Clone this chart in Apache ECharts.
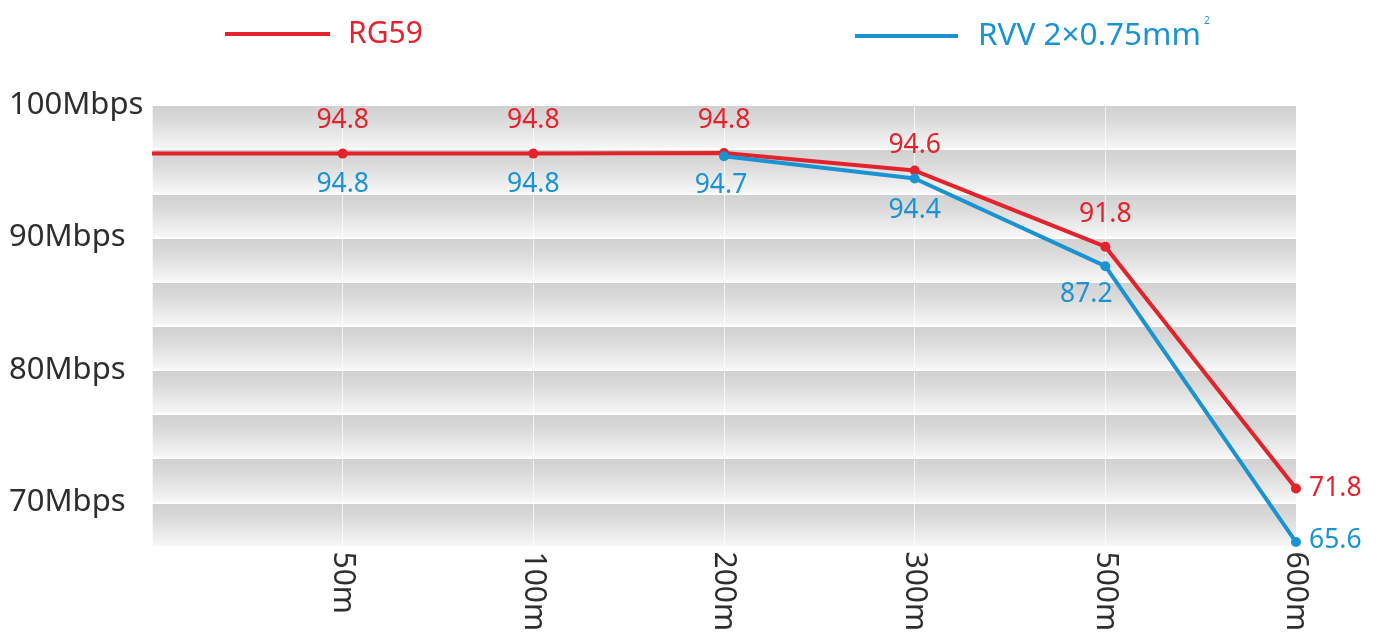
<!DOCTYPE html>
<html>
<head>
<meta charset="utf-8">
<script src="https://cdn.jsdelivr.net/npm/echarts@6/dist/echarts.min.js"></script>
<style>html,body{margin:0;padding:0;background:#fff;}#c{width:1381px;height:634px;}</style>
</head>
<body>
<div id="c"></div>
<script>
// Distance categories (first slot is the blank left edge of the plot)
const categories = ['', '50m', '100m', '200m', '300m', '500m', '600m'];
// Printed speed values (Mbps)
const rg59Labels = [null, 94.8, 94.8, 94.8, 94.6, 91.8, 71.8];
const rvvLabels  = [null, 94.8, 94.8, 94.7, 94.4, 87.2, 65.6];
// Plotted levels
const rg59Level = [96.33, 96.33, 96.33, 96.38, 95.05, 89.3, 71.05];
const rvvLevel  = [null, null, null, 96.13, 94.45, 87.83, 67.0];
// Y axis tick labels
const yTickValues = [100, 90, 80, 70];

const RED = '#e3232c';
const BLUE = '#1b93d2';
const FONT = 'Noto Sans';

const redLabelCfg = {
  1: {position: 'inside', offset: [0, -33]},
  2: {position: 'inside', offset: [0, -33]},
  3: {position: 'inside', offset: [0, -32]},
  4: {position: 'inside', offset: [0, -25]},
  5: {position: 'inside', offset: [0, -32]},
  6: {position: 'right', distance: 8, offset: [0, 0]}
};
const blueLabelCfg = {
  3: {position: 'inside', offset: [-3, 29]},
  4: {position: 'inside', offset: [0, 32]},
  5: {position: 'inside', offset: [-19, 28]},
  6: {position: 'right', distance: 8, offset: [0, -2]}
};

function buildData(levels, labels, cfg, color) {
  return levels.map((v, i) => {
    if (v === null) return '-';
    const item = {value: v};
    if (i === 0) { item.symbol = 'none'; item.label = {show: false}; return item; }
    const c = cfg[i];
    if (c) {
      item.label = Object.assign({show: true, formatter: String(labels[i]), color: color,
        fontSize: 26.5, fontFamily: FONT}, c);
    } else {
      item.label = {show: false};
    }
    return item;
  });
}

// Blue line is hidden under the red one at 50m and 100m; its labels still show there
const rvvHiddenLevel = rg59Level.map((v, i) => (i === 1 || i === 2) ? v : null);
const hiddenCfg = {
  1: {position: 'inside', offset: [0, 31]},
  2: {position: 'inside', offset: [0, 31]}
};

const chart = echarts.init(document.getElementById('c'));
const bandGradient = new echarts.graphic.LinearGradient(0, 0, 0, 1, [
  {offset: 0, color: '#d0d0d0'},
  {offset: 0.35, color: '#dadada'},
  {offset: 1, color: '#f7f7f7'}
]);

chart.setOption({
  backgroundColor: '#ffffff',
  animation: false,
  legend: [
    {
      data: ['RG59'], left: 220, top: 14, icon: 'rect', itemWidth: 105, itemHeight: 4,
      formatter: '{t|{name}}',
      textStyle: {rich: {t: {color: RED, fontSize: 30, fontFamily: FONT, lineHeight: 34, padding: [0, 0, 0, 13]}}}
    },
    {
      data: ['RVV 2×0.75mm2'], left: 850, top: 11, icon: 'rect', itemWidth: 103, itemHeight: 4,
      formatter: function () { return '{t|RVV 2×0.75mm}{s|2}'; },
      textStyle: {rich: {
        t: {color: BLUE, fontSize: 31.5, fontFamily: FONT, lineHeight: 40, padding: [0, 0, 0, 15]},
        s: {color: BLUE, fontSize: 10, fontFamily: FONT, lineHeight: 10, verticalAlign: 'top', padding: [0, 0, 0, 3]}
      }}
    }
  ],
  grid: {left: 152, right: 85, top: 105, bottom: 85},
  xAxis: {
    type: 'category',
    data: categories,
    boundaryGap: false,
    axisLine: {show: false},
    axisTick: {show: false},
    axisLabel: {rotate: -90, fontSize: 30, color: '#2e2e2e', fontFamily: FONT, margin: 5},
    splitLine: {show: true, lineStyle: {color: 'rgba(255,255,255,0.7)', width: 1}}
  },
  yAxis: {
    type: 'value',
    min: 200 / 3,
    max: 100,
    interval: 10 / 3,
    axisLine: {show: false},
    axisTick: {show: false},
    axisLabel: {
      fontSize: 31, color: '#2e2e2e', fontFamily: FONT, align: 'left', margin: 143,
      formatter: function (v) {
        for (const t of yTickValues) { if (Math.abs(v - t) < 0.01) return t + 'Mbps'; }
        return '';
      }
    },
    splitLine: {show: true, lineStyle: {color: '#ffffff', width: 2}},
    splitArea: {show: true, areaStyle: {color: [bandGradient]}}
  },
  series: [
    {
      name: 'RVV labels', type: 'line', z: 1,
      data: buildData(rvvHiddenLevel, rvvLabels, hiddenCfg, BLUE),
      symbol: 'circle', symbolSize: 2, showSymbol: true,
      lineStyle: {color: 'rgba(0,0,0,0)', width: 0},
      itemStyle: {color: 'rgba(0,0,0,0)', borderWidth: 0},
      label: {show: true},
      tooltip: {show: false}
    },
    {
      name: 'RG59', type: 'line', z: 2,
      data: buildData(rg59Level, rg59Labels, redLabelCfg, RED),
      symbol: 'circle', symbolSize: 10,
      lineStyle: {color: RED, width: 4},
      itemStyle: {color: RED},
      label: {show: true}
    },
    {
      name: 'RVV 2×0.75mm2', type: 'line', z: 3,
      data: buildData(rvvLevel, rvvLabels, blueLabelCfg, BLUE),
      symbol: 'circle', symbolSize: 10,
      lineStyle: {color: BLUE, width: 4},
      itemStyle: {color: BLUE},
      label: {show: true}
    }
  ]
});
</script>
</body>
</html>
